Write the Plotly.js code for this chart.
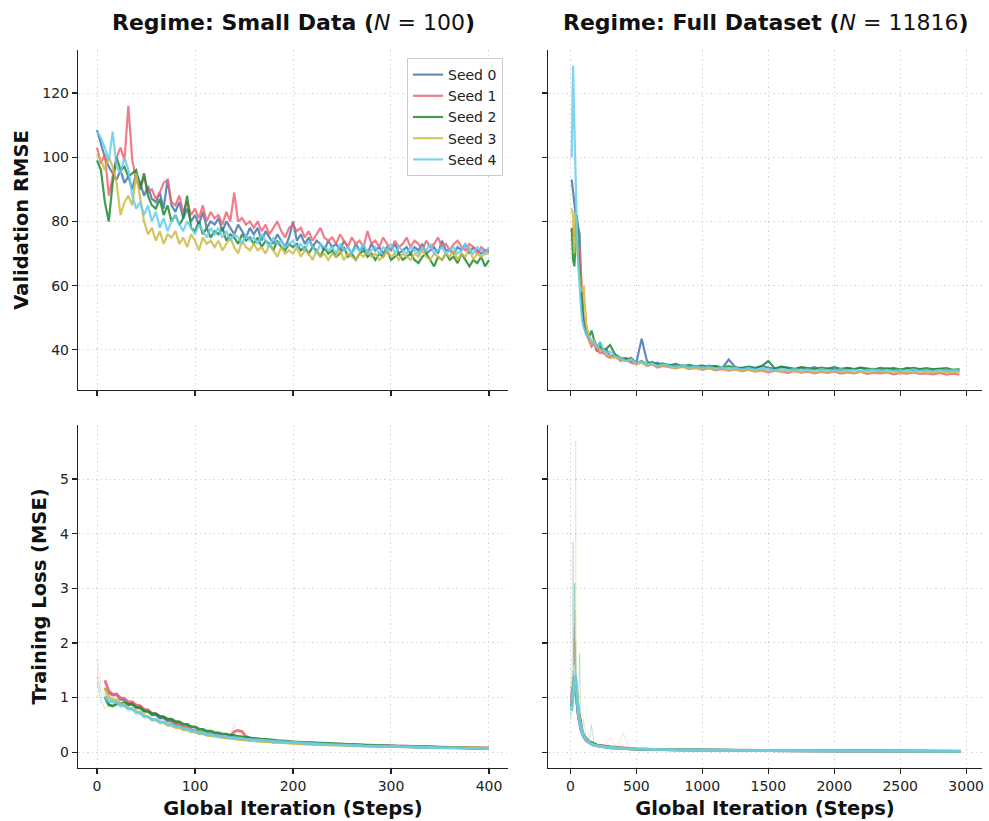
<!DOCTYPE html>
<html>
<head>
<meta charset="utf-8">
<script src="https://cdn.plot.ly/plotly-3.0.1.min.js"></script>
<style>html,body{margin:0;padding:0;background:#fff;}#chart{width:989px;height:821px;}</style>
</head>
<body>
<div id="chart"></div>
<script>
// ---------- DATA ----------
const seedNames = ["Seed 0", "Seed 1", "Seed 2", "Seed 3", "Seed 4"];
const seedColors = ["#4477AA", "#EE6677", "#228833", "#CCBB44", "#66CCEE"];

// Small data regime: evaluation / training steps (every 4 steps, 0..400)
const stepsSmall = Array.from({length: 101}, (_, i) => i * 4);

const valSmall0 = [108.5,104,100,97,95,93,96,92,94,90, 95,92,88,91,87,86,89,84,93,85, 83,86,81,84,80,82,79,83,78,80, 79,81,77,80,78,76,79,77,75,78, 76,78,74,77,75,73,76,74,72,75, 80,74,76,73,75,72,74,73,71,74, 72,73,71,74,72,70,73,71,72,70, 73,71,72,70,72,71,73,70,71,72, 70,72,71,73,70,71,72,70,74,71, 71,70,72,71,73,70,72,71,70,71, 71];
const valSmall1 = [103,98,101,88,94,100,103,99,116,99, 93,90,94,89,90,87,89,92,93,86, 85,88,83,86,82,84,81,85,80,83, 81,82,79,83,80,89,80,81,79,80, 78,80,77,79,76,78,80,77,75,78, 79,77,78,75,77,74,76,78,75,74, 75,73,76,74,72,75,73,74,72,77, 73,74,72,75,73,71,74,72,73,75, 72,74,73,71,74,72,73,75,72,73, 71,73,74,72,71,73,72,70,72,71, 70.5];
const valSmall2 = [99,96,86,80,92,100,96,97,94,95, 96,90,95,88,85,84,87,82,85,80, 82,79,81,88,78,77,80,76,78,75, 77,76,78,74,76,75,73,76,74,75, 73,75,72,74,73,71,74,72,71,73, 72,73,71,72,70,72,71,69,72,70, 71,69,70,72,69,70,68,70,71,69, 70,68,70,69,71,68,69,70,68,69, 70,68,67,69,70,68,66,69,68,70, 68,69,67,70,68,66,68,67,69,66, 68];
const valSmall3 = [101,99,96,100,97,92,82,86,88,85, 95,87,80,76,78,74,77,73,76,75, 77,73,75,72,76,74,71,75,73,74, 72,74,71,73,75,72,70,74,72,71, 73,71,72,70,73,71,69,72,70,71, 70,72,69,71,70,68,71,69,70,68, 70,69,71,68,70,69,68,70,69,71, 69,70,68,69,71,69,70,68,70,69, 68,70,69,71,69,68,70,69,68,70, 69,71,68,70,69,72,68,70,69,70, 70];
const valSmall4 = [108,106,103,99,108,97,95,100,96,88, 84,86,82,85,80,83,78,81,77,80, 82,79,77,80,78,76,79,77,75,78, 76,78,75,77,74,76,75,73,76,74, 75,73,76,74,72,75,73,74,72,73, 74,72,73,71,74,72,70,73,72,71, 72,70,73,71,72,70,72,71,73,70, 71,72,70,72,71,73,70,72,71,70, 72,71,70,72,71,73,70,71,72,70, 71,72,70,71,73,71,70,72,71,70, 72];

const trainSmall0 = [1.40,1.10,1.02,1.15,0.98,1.05,0.88,0.96,0.84,0.90, 0.78,0.82,0.70,0.74,0.64,0.68,0.58,0.62,0.53,0.56, 0.45,0.48,0.40,0.42,0.35,0.38,0.32,0.34,0.30,0.31, 0.32,0.26,0.30,0.24,0.28,0.23,0.26,0.21,0.25,0.20, 0.23,0.19,0.22,0.18,0.21,0.17,0.20,0.17,0.19,0.16, 0.19,0.15,0.18,0.15,0.17,0.14,0.16,0.14,0.16,0.13, 0.15,0.13,0.15,0.12,0.14,0.12,0.14,0.11,0.13,0.11, 0.13,0.11,0.12,0.10,0.12,0.10,0.12,0.10,0.11,0.09, 0.11,0.09,0.11,0.09,0.10,0.08,0.10,0.08,0.09,0.08, 0.09,0.08,0.09,0.07,0.09,0.07,0.08,0.07,0.08,0.07, 0.07];
const trainSmall1 = [1.70,1.20,1.05,1.12,1.00,1.06,0.92,0.98,0.86,0.92, 0.80,0.84,0.72,0.76,0.66,0.70,0.60,0.63,0.55,0.58, 0.46,0.50,0.42,0.44,0.37,0.40,0.33,0.36,0.31,0.33, 0.29,0.31,0.27,0.29,0.33,0.50,0.36,0.27,0.24,0.25, 0.23,0.21,0.22,0.20,0.21,0.19,0.20,0.19,0.19,0.18, 0.19,0.17,0.18,0.16,0.18,0.15,0.17,0.15,0.16,0.14, 0.15,0.14,0.15,0.13,0.14,0.13,0.14,0.12,0.13,0.12, 0.13,0.11,0.13,0.11,0.12,0.11,0.12,0.10,0.11,0.10, 0.11,0.10,0.11,0.09,0.10,0.09,0.10,0.09,0.09,0.08, 0.09,0.08,0.09,0.08,0.08,0.08,0.08,0.07,0.08,0.07, 0.07];
const trainSmall2 = [1.30,0.95,0.80,0.85,0.88,0.92,0.86,0.94,0.82,0.88, 0.76,0.80,0.70,0.74,0.66,0.70,0.60,0.64,0.57,0.60, 0.52,0.55,0.47,0.50,0.43,0.46,0.38,0.41,0.36,0.38, 0.33,0.35,0.31,0.33,0.29,0.30,0.27,0.28,0.25,0.26, 0.24,0.25,0.22,0.23,0.21,0.22,0.20,0.21,0.19,0.19, 0.18,0.18,0.17,0.17,0.16,0.16,0.15,0.16,0.15,0.15, 0.14,0.15,0.14,0.14,0.13,0.14,0.13,0.13,0.12,0.13, 0.12,0.12,0.11,0.12,0.11,0.11,0.10,0.11,0.10,0.10, 0.10,0.10,0.09,0.10,0.09,0.09,0.09,0.09,0.08,0.09, 0.08,0.08,0.08,0.08,0.07,0.08,0.07,0.07,0.07,0.07, 0.07];
const trainSmall3 = [1.50,1.05,0.95,1.02,0.90,0.95,0.80,0.86,0.74,0.80, 0.68,0.72,0.60,0.64,0.55,0.58,0.50,0.53,0.46,0.48, 0.42,0.44,0.38,0.40,0.35,0.36,0.32,0.33,0.29,0.30, 0.27,0.28,0.25,0.26,0.24,0.24,0.22,0.23,0.21,0.21, 0.20,0.20,0.19,0.19,0.18,0.18,0.17,0.17,0.16,0.16, 0.16,0.15,0.15,0.14,0.14,0.14,0.13,0.14,0.13,0.13, 0.13,0.12,0.13,0.12,0.12,0.11,0.12,0.11,0.11,0.11, 0.11,0.10,0.11,0.10,0.10,0.10,0.10,0.09,0.10,0.09, 0.09,0.09,0.09,0.09,0.08,0.09,0.08,0.08,0.08,0.08, 0.08,0.08,0.07,0.08,0.07,0.08,0.07,0.07,0.08,0.07, 0.08];
const trainSmall4 = [1.25,0.90,0.92,0.98,0.86,0.90,0.80,0.84,0.74,0.78, 0.66,0.70,0.60,0.64,0.56,0.60,0.52,0.55,0.48,0.50, 0.44,0.46,0.40,0.42,0.36,0.38,0.33,0.35,0.31,0.32, 0.29,0.30,0.27,0.28,0.26,0.26,0.24,0.25,0.23,0.23, 0.22,0.22,0.21,0.21,0.20,0.20,0.19,0.19,0.18,0.18, 0.17,0.17,0.16,0.16,0.15,0.15,0.15,0.14,0.14,0.14, 0.13,0.14,0.13,0.13,0.12,0.13,0.12,0.12,0.11,0.12, 0.11,0.11,0.11,0.10,0.11,0.10,0.10,0.10,0.09,0.10, 0.09,0.09,0.09,0.09,0.08,0.09,0.08,0.08,0.08,0.08, 0.08,0.07,0.08,0.07,0.07,0.07,0.07,0.07,0.06,0.07, 0.06];

// Full dataset regime: validation steps
const valFullSteps = [10,20,30,40,50,60,70,80,90,100, 120,140,160,180,200,225,250,275,300,340, 380,420,460,500,540,580,620,660,700]
  .concat(Array.from({length: 45}, (_, i) => 750 + i * 50));

const valFull0 = [93,89,84,82,80,78,76,60,52,49, 46,44,42,43,39.5,41,39,40,38,38.5, 37,37.5,36.5,36,43.5,36.5,35.5,36,35,
  35.3,34.8,35.2,34.6,35.0,34.4,35.1,34.7,34.3,37.0, 34.6,34.2,34.8,34.3,35.0,34.5,34.1,34.7,34.2,33.9, 34.5,34.0,34.6,33.8,34.2,34.0,33.7,34.3,33.9,34.4, 33.8,34.1,33.6,34.2,33.9,33.5,34.4,33.8,34.0,33.6, 33.9,34.1,33.5,33.8,33.6];
const valFull1 = [78,77,75,80,74,73,72,64,55,50, 45,43,41,42,40,39,39.5,38,37.5,38, 36.5,37,36,35.5,36.5,35.0,35.5,34.5,35,
  34.6,34.2,34.8,34.0,34.4,33.8,34.3,33.6,34.0,33.5, 33.9,33.3,33.8,33.2,33.6,33.0,33.5,33.1,32.8,33.4, 32.9,33.2,32.7,33.1,32.8,33.3,32.6,33.0,32.7,33.2, 32.5,32.9,32.7,33.0,32.4,32.8,32.6,33.0,32.5,32.7, 32.4,32.8,32.3,32.6,32.3];
const valFull2 = [78,68,66,75,82,70,64,58,52,48, 45,44,46,43,41,42,40,40.5,41.5,38.5, 37.5,37,37.5,36,36.5,35.5,36.2,35.4,35.8,
  35.2,35.6,34.9,35.3,34.8,35.2,34.6,35.0,34.5,34.9, 34.4,34.4,34.7,34.3,34.9,36.5,34.2,34.8,34.4,34.1, 34.6,34.3,34.0,34.5,34.2,34.6,34.1,34.4,34.0,34.5, 34.2,33.9,34.4,34.1,34.3,33.9,34.2,34.4,34.0,34.3, 33.9,34.1,34.3,33.8,34.0];
const valFull3 = [84,82,70,83,72,66,62,59,58,60, 48,44,42,43,41,40,39.5,38.5,38,37.5, 37,36.5,37,35.5,36,35,35.6,34.8,35.2,
  34.8,34.3,34.7,34.1,34.5,33.9,34.3,33.8,34.2,33.6, 34.0,33.5,33.9,33.4,33.8,33.3,33.7,33.2,33.6,33.3, 33.1,33.5,33.0,33.4,33.2,33.6,33.1,33.3,32.9,33.4, 33.0,33.2,33.5,33.0,33.3,32.9,33.2,33.0,33.4,32.9, 33.1,33.3,32.9,33.2,33.0];
const valFull4 = [100,128.5,110,88,76,66,58,53,49,47, 45,44,43,42,41,42.5,40,39,39.5,38, 37.5,36.5,37,36,36.5,35.5,35.8,35.0,35.5,
  35.0,34.6,35.3,34.5,34.9,34.3,34.8,34.2,34.6,34.1, 34.5,33.9,34.4,33.8,34.2,33.9,33.6,34.1,33.7,34.0, 33.6,33.9,33.5,34.0,33.7,33.4,33.9,33.6,33.8,33.4, 33.7,33.9,33.5,33.8,33.4,33.7,33.5,33.9,33.5,33.7, 33.4,33.8,33.5,33.7,33.6];

// Full dataset regime: training loss (raw) steps and values
const trainFullSteps = [0,5,10,15,20,25,30,35,40,45, 50,60,70,80,90,100,120,140,160,180, 200,250,300,350,400,450,500,600,700,800, 900,1000,1200,1400,1600,1800,2000,2200,2400,2600, 2800,2960];
const trainFull0 = [1.10,0.80,1.30,2.00,3.85,1.60,2.30,1.20,1.50,0.90, 0.75,0.55,0.45,0.36,0.30,0.26,0.20,0.16,0.14,0.12, 0.11,0.09,0.08,0.07,0.06,0.055,0.05,0.045,0.04,0.035, 0.032,0.03,0.026,0.024,0.022,0.02,0.019,0.018,0.017,0.016, 0.015,0.015];
const trainFull1 = [0.90,1.20,0.85,1.40,1.10,2.10,1.60,2.60,1.30,1.00, 0.80,0.60,0.46,0.38,0.33,0.60,0.22,0.18,0.15,0.14, 0.12,0.10,0.26,0.08,0.35,0.07,0.06,0.05,0.045,0.04, 0.035,0.032,0.028,0.025,0.023,0.021,0.02,0.019,0.018,0.017, 0.016,0.016];
const trainFull2 = [0.70,1.00,0.80,1.20,1.50,1.10,3.10,1.50,2.00,1.10, 0.90,0.65,1.80,0.42,0.35,0.30,0.24,0.19,0.50,0.14, 0.12,0.10,0.085,0.075,0.065,0.06,0.055,0.048,0.042,0.038, 0.034,0.031,0.027,0.024,0.022,0.02,0.019,0.018,0.017,0.016, 0.015,0.015];
const trainFull3 = [1.00,1.30,0.90,1.10,1.40,1.20,2.00,1.70,5.70,1.40, 1.00,0.70,0.50,0.40,0.34,0.28,0.21,0.17,0.14,0.12, 0.11,0.09,0.08,0.07,0.06,0.055,0.05,0.045,0.04,0.035, 0.032,0.03,0.026,0.024,0.022,0.02,0.019,0.018,0.017,0.016, 0.015,0.015];
const trainFull4 = [0.80,0.60,1.10,0.90,1.60,1.90,2.50,3.10,1.60,1.20, 0.90,0.62,0.48,0.38,0.32,0.27,0.21,0.17,0.14,0.12, 0.11,0.09,0.08,0.07,0.06,0.055,0.05,0.045,0.04,0.035, 0.032,0.03,0.026,0.024,0.022,0.02,0.019,0.018,0.017,0.016, 0.015,0.015];

// Full dataset regime: smoothed training loss
const smoothFullSteps = [10,15,20,25,30,35,40,45,50,60, 70,80,90,100,120,140,160,180,200,250, 300,400,500,700,1000,1500,2000,2500,2960];
const smoothFull0 = [1.00,1.10,1.25,1.32,1.35,1.30,1.20,1.05,0.90,0.66, 0.51,0.41,0.34,0.28,0.21,0.17,0.145,0.125,0.115,0.095, 0.08,0.065,0.055,0.045,0.035,0.027,0.022,0.018,0.016];
const smoothFull1 = [0.95,1.05,1.15,1.25,1.35,1.30,1.20,1.05,0.90,0.68, 0.53,0.43,0.36,0.32,0.24,0.19,0.16,0.14,0.13,0.11, 0.10,0.08,0.06,0.048,0.038,0.03,0.024,0.02,0.018];
const smoothFull2 = [0.85,0.95,1.05,1.15,1.30,1.35,1.30,1.15,0.98,0.75, 0.65,0.48,0.38,0.31,0.24,0.19,0.18,0.15,0.13,0.11, 0.09,0.07,0.057,0.046,0.036,0.028,0.022,0.018,0.016];
const smoothFull3 = [0.95,1.00,1.05,1.15,1.30,1.35,1.40,1.25,1.05,0.78, 0.58,0.46,0.37,0.31,0.23,0.18,0.15,0.13,0.12,0.10, 0.085,0.065,0.055,0.045,0.035,0.028,0.022,0.018,0.016];
const smoothFull4 = [0.75,0.85,1.00,1.20,1.35,1.42,1.30,1.10,0.95,0.70, 0.55,0.44,0.36,0.30,0.22,0.18,0.15,0.13,0.12,0.10, 0.085,0.065,0.055,0.045,0.035,0.028,0.022,0.018,0.016];

const xTicksSmall = [0, 100, 200, 300, 400];
const xTicksFull = [0, 500, 1000, 1500, 2000, 2500, 3000];
const yTicksVal = [40, 60, 80, 100, 120];
const yTicksTrain = [0, 1, 2, 3, 4, 5];

// ---------- BUILD ----------
const valSmall = [valSmall0, valSmall1, valSmall2, valSmall3, valSmall4];
const trainSmall = [trainSmall0, trainSmall1, trainSmall2, trainSmall3, trainSmall4];
const valFull = [valFull0, valFull1, valFull2, valFull3, valFull4];
const trainFull = [trainFull0, trainFull1, trainFull2, trainFull3, trainFull4];
const smoothFull = [smoothFull0, smoothFull1, smoothFull2, smoothFull3, smoothFull4];

function rolling(arr, w) {
  return arr.map((v, i) => {
    if (i < w - 1) return null;
    let s = 0;
    for (let k = i - w + 1; k <= i; k++) s += arr[k];
    return s / w;
  });
}

const traces = [];
for (let s = 0; s < 5; s++) {
  traces.push({x: stepsSmall, y: valSmall[s], type: 'scatter', mode: 'lines', name: seedNames[s],
    line: {color: seedColors[s], width: 2.2}, opacity: 0.85, xaxis: 'x', yaxis: 'y', showlegend: true});
}
for (let s = 0; s < 5; s++) {
  traces.push({x: valFullSteps, y: valFull[s], type: 'scatter', mode: 'lines', name: seedNames[s],
    line: {color: seedColors[s], width: 2.2}, opacity: 0.85, xaxis: 'x2', yaxis: 'y2', showlegend: false});
}
for (let s = 0; s < 5; s++) {
  traces.push({x: stepsSmall, y: trainSmall[s], type: 'scatter', mode: 'lines', name: seedNames[s] + ' raw',
    line: {color: seedColors[s], width: 1}, opacity: 0.22, xaxis: 'x3', yaxis: 'y3', showlegend: false});
  traces.push({x: stepsSmall, y: rolling(trainSmall[s], 3), type: 'scatter', mode: 'lines', name: seedNames[s],
    line: {color: seedColors[s], width: 2.8}, opacity: 0.9, xaxis: 'x3', yaxis: 'y3', showlegend: false});
}
for (let s = 0; s < 5; s++) {
  traces.push({x: trainFullSteps, y: trainFull[s], type: 'scatter', mode: 'lines', name: seedNames[s] + ' raw',
    line: {color: seedColors[s], width: 1}, opacity: 0.22, xaxis: 'x4', yaxis: 'y4', showlegend: false});
  traces.push({x: smoothFullSteps, y: smoothFull[s], type: 'scatter', mode: 'lines', name: seedNames[s],
    line: {color: seedColors[s], width: 2.8}, opacity: 0.9, xaxis: 'x4', yaxis: 'y4', showlegend: false});
}

const W = 989, H = 821;
const M = {l: 78, r: 7, t: 50, b: 53};
const pw = W - M.l - M.r, ph = H - M.t - M.b;
const xdomL = [0, (508 - 78) / pw];
const xdomR = [(548 - 78) / pw, 1];
const ydomT = [(768 - 390) / ph, 1];
const ydomB = [0, (768 - 425) / ph];

const tickFont = {family: 'DejaVu Sans', size: 14, color: '#222'};
const axTitleFont = {family: 'DejaVu Sans', size: 19.5, color: '#111'};
const baseAxis = {
  showline: true, linecolor: '#222', linewidth: 1.2, mirror: false,
  ticks: 'outside', ticklen: 5, tickwidth: 1.2, tickcolor: '#222',
  showgrid: true, gridcolor: '#d6d6d6', griddash: '1.5px,3px', gridwidth: 1,
  zeroline: false, tickfont: tickFont, automargin: false
};

const layout = {
  width: W, height: H,
  margin: M,
  paper_bgcolor: '#fff', plot_bgcolor: '#fff',
  font: {family: 'DejaVu Sans', color: '#222'},
  showlegend: true,
  legend: {
    x: (503 - 78) / pw, y: 1 - (58 - 50) / ph, xanchor: 'right', yanchor: 'top',
    bgcolor: 'rgba(255,255,255,0.85)', bordercolor: '#cccccc', borderwidth: 1,
    font: {family: 'DejaVu Sans', size: 14, color: '#222'},
    tracegroupgap: 0
  },
  xaxis: Object.assign({}, baseAxis, {domain: xdomL, anchor: 'y', range: [-19.4, 419.4], tickvals: xTicksSmall, showticklabels: false}),
  xaxis2: Object.assign({}, baseAxis, {domain: xdomR, anchor: 'y2', range: [-170, 3120], tickvals: xTicksFull, showticklabels: false}),
  xaxis3: Object.assign({}, baseAxis, {domain: xdomL, anchor: 'y3', range: [-19.4, 419.4], tickvals: xTicksSmall,
    title: {text: '<b>Global Iteration (Steps)</b>', font: axTitleFont, standoff: 8}}),
  xaxis4: Object.assign({}, baseAxis, {domain: xdomR, anchor: 'y4', range: [-170, 3120], tickvals: xTicksFull,
    title: {text: '<b>Global Iteration (Steps)</b>', font: axTitleFont, standoff: 8}}),
  yaxis: Object.assign({}, baseAxis, {domain: ydomT, anchor: 'x', range: [27.5, 133.4], tickvals: yTicksVal,
    title: {text: '<b>Validation RMSE</b>', font: axTitleFont, standoff: 8}}),
  yaxis2: Object.assign({}, baseAxis, {domain: ydomT, anchor: 'x2', range: [27.5, 133.4], tickvals: yTicksVal, showticklabels: false}),
  yaxis3: Object.assign({}, baseAxis, {domain: ydomB, anchor: 'x3', range: [-0.29, 5.99], tickvals: yTicksTrain,
    title: {text: '<b>Training Loss (MSE)</b>', font: axTitleFont, standoff: 8}}),
  yaxis4: Object.assign({}, baseAxis, {domain: ydomB, anchor: 'x4', range: [-0.29, 5.99], tickvals: yTicksTrain, showticklabels: false}),
  annotations: [
    {text: '<b>Regime: Small Data (</b><i>N</i> = 100<b>)</b>', xref: 'paper', yref: 'paper',
     x: (xdomL[0] + xdomL[1]) / 2, y: 1 + 27 / ph, xanchor: 'center', yanchor: 'middle', showarrow: false,
     font: {family: 'DejaVu Sans', size: 22, color: '#111'}},
    {text: '<b>Regime: Full Dataset (</b><i>N</i> = 11816<b>)</b>', xref: 'paper', yref: 'paper',
     x: (xdomR[0] + xdomR[1]) / 2, y: 1 + 27 / ph, xanchor: 'center', yanchor: 'middle', showarrow: false,
     font: {family: 'DejaVu Sans', size: 22, color: '#111'}}
  ]
};

Plotly.newPlot('chart', traces, layout, {displayModeBar: false, staticPlot: true});
</script>
</body>
</html>
